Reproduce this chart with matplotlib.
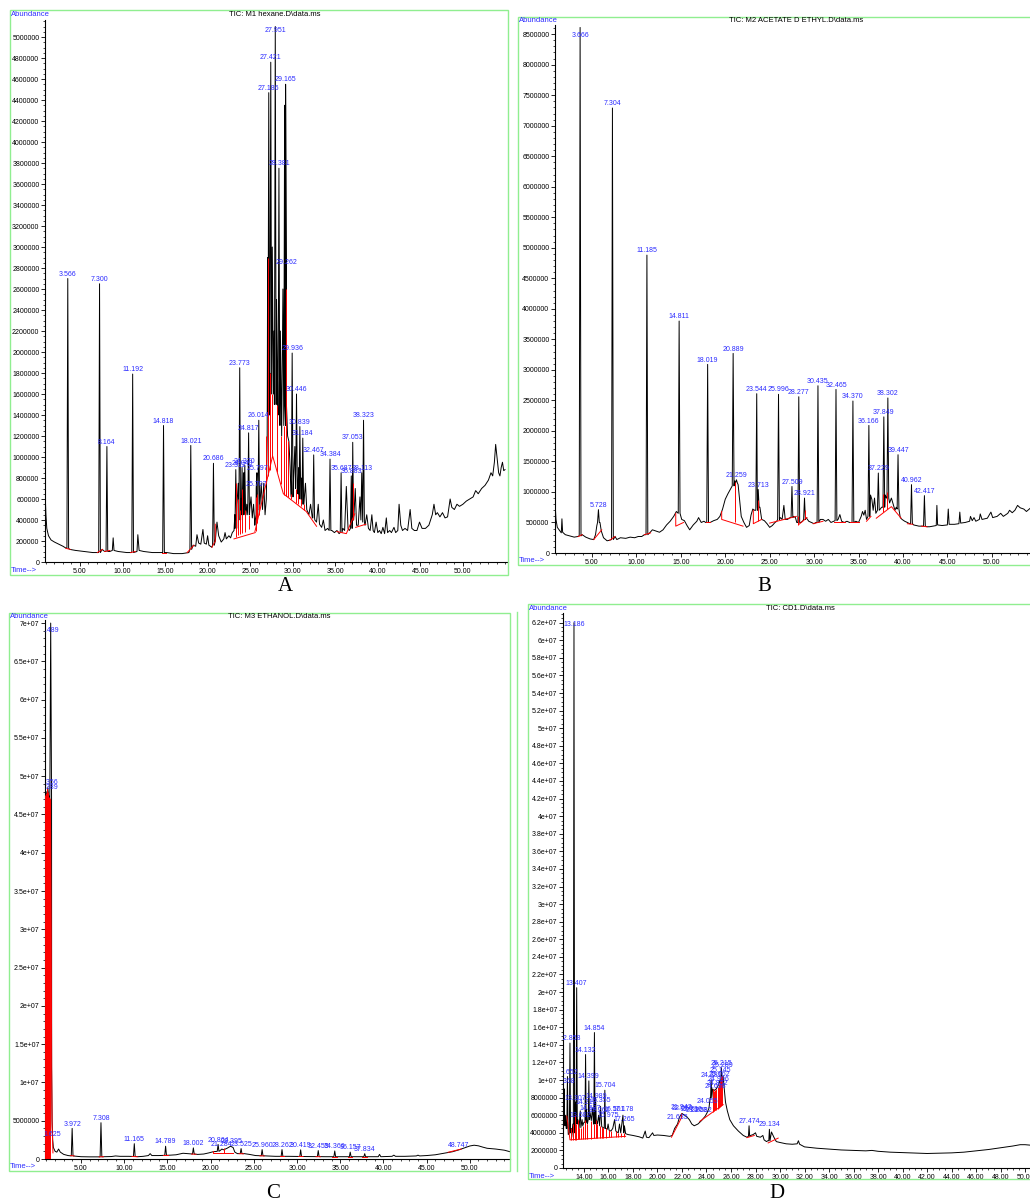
import numpy as np
import matplotlib
matplotlib.use('Agg')
import matplotlib.pyplot as plt
from matplotlib.ticker import FixedLocator, MultipleLocator, FuncFormatter
from matplotlib.patches import Rectangle

plt.rcParams['font.family'] = ['Liberation Sans', 'DejaVu Sans']

M = 1e6          # abundances below are in millions
BLUE = '#2b2bff'
GREEN = '#90ee90'

# ---------------- A : M1 hexane ----------------
A_bg_t = [0.89, 0.93, 1.0, 1.1, 1.3, 1.6, 2.0, 2.5, 3.0, 3.4, 3.8, 4.5, 5.5, 6.5, 7.1, 7.6, 7.9, 8.5,
          8.8, 8.9, 9.0, 9.5, 10.5, 11.0, 11.7, 11.8, 11.95, 12.5, 13.5, 14.5, 15.2, 16.0, 17.0, 17.8,
          18.3, 18.6, 18.75, 18.95, 19.2, 19.45, 19.6, 19.85, 20.0, 20.15, 20.5, 20.9, 21.1, 21.3, 21.6,
          21.9, 22.05, 22.2, 22.5, 22.7, 22.9, 23.1, 23.2, 23.45, 23.6, 23.9, 24.17, 24.25, 24.5, 24.6,
          24.95, 25.1, 25.25, 25.4, 25.55, 25.9, 26.15, 26.3, 26.45, 26.6, 26.75, 26.9, 27.0, 27.05,
          27.08, 27.3, 27.6, 27.72, 27.8, 28.1, 28.25, 28.5, 28.55, 28.7, 28.85, 28.95, 29.05, 29.4,
          29.55, 29.7, 29.8, 30.1, 30.25, 30.33, 30.6, 30.7, 30.95, 31.05, 31.3, 31.5, 31.65, 31.9,
          32.1, 32.3, 32.6, 32.8, 33.0, 33.15, 33.4, 33.6, 33.8, 34.1, 34.6, 34.9, 35.2, 35.45, 35.9,
          36.1, 36.3, 36.5, 36.65, 37.2, 37.35, 37.5, 37.7, 37.9, 38.0, 38.5, 38.7, 38.9, 39.1, 39.3,
          39.45, 39.6, 39.8, 40.0, 40.2, 40.4, 40.6, 40.8, 41.0, 41.15, 41.4, 41.6, 41.9, 42.1, 42.35,
          42.5, 42.7, 42.9, 43.2, 43.5, 43.8, 44.0, 44.3, 44.6, 44.9, 45.2, 45.6, 46.0, 46.4, 46.6,
          46.8, 47.0, 47.3, 47.6, 47.9, 48.2, 48.5, 48.7, 49.0, 49.3, 49.6, 50.0, 50.4, 50.8, 51.2,
          51.5, 51.8, 52.2, 52.6, 53.0, 53.3, 53.5, 53.7, 53.85, 54.0, 54.2, 54.35, 54.5, 54.65, 54.8,
          54.95]
A_bg_y = [1.15, 0.60, 0.45, 0.32, 0.25, 0.21, 0.19, 0.17, 0.15, 0.13, 0.12, 0.11, 0.10, 0.09, 0.09, 0.12, 0.10, 0.10,
          0.11, 0.23, 0.11, 0.10, 0.09, 0.09, 0.10, 0.26, 0.11, 0.10, 0.09, 0.09, 0.09, 0.08, 0.08, 0.09,
          0.16, 0.15, 0.26, 0.18, 0.17, 0.31, 0.18, 0.17, 0.25, 0.16, 0.14, 0.20, 0.38, 0.25, 0.19,
          0.22, 0.28, 0.22, 0.25, 0.23, 0.28, 0.30, 0.45, 0.55, 0.75, 0.60, 0.50, 0.85, 0.45, 0.55,
          0.50, 0.62, 0.42, 0.55, 0.35, 0.50, 0.55, 0.75, 0.50, 0.75, 0.45, 0.60, 1.20, 2.90,
          1.40, 1.80, 3.00, 1.60, 2.20, 2.50, 1.50, 1.30, 2.20, 1.20, 2.60, 1.30, 4.35, 1.20,
          1.15, 0.90, 0.65, 0.80, 1.10, 0.70, 0.65, 0.90, 0.60, 0.80, 0.55, 0.75, 0.50, 0.45,
          0.55, 0.42, 0.40, 0.38, 0.55, 0.36, 0.33, 0.40, 0.30, 0.32, 0.30, 0.28, 0.30, 0.27, 0.32,
          0.30, 0.72, 0.32, 0.30, 0.45, 0.70, 0.35, 0.35, 0.62, 0.40, 0.35, 0.45, 0.32, 0.30, 0.45,
          0.30, 0.28, 0.38, 0.28, 0.30, 0.27, 0.33, 0.27, 0.42, 0.28, 0.30, 0.28, 0.33, 0.28, 0.30,
          0.55, 0.35, 0.30, 0.32, 0.30, 0.50, 0.32, 0.30, 0.30, 0.38, 0.32, 0.32, 0.35, 0.45, 0.55,
          0.45, 0.47, 0.43, 0.47, 0.42, 0.43, 0.60, 0.52, 0.50, 0.55, 0.53, 0.55, 0.58, 0.60, 0.62,
          0.68, 0.65, 0.70, 0.73, 0.78, 0.85, 0.82, 0.95, 1.12, 1.00, 0.85, 0.82, 0.90, 0.95, 0.87,
          0.88]
A_pk_t = [3.566, 7.300, 8.164, 11.192, 14.818, 18.021, 20.686, 23.312, 23.773, 24.049, 24.370, 24.817,
          25.707, 25.797, 26.014, 27.186, 27.421, 27.951, 28.381, 29.165, 29.262, 29.936, 30.446, 30.839,
          31.184, 32.467, 34.384, 35.687, 36.883, 37.053, 38.113, 38.323]
A_pk_h = [2.70, 2.65, 1.10, 1.79, 1.30, 1.11, 0.94, 0.88, 1.85, 0.90, 0.92, 1.23,
          0.70, 0.85, 1.35, 4.47, 4.76, 5.10, 3.75, 4.55, 2.81, 1.99, 1.60, 1.29,
          1.18, 1.02, 0.98, 0.85, 0.82, 1.14, 0.85, 1.35]
A_pk_b = [0.13, 0.09, 0.10, 0.09, 0.09, 0.12, 0.16, 0.32, 0.40, 0.45, 0.45, 0.45,
          0.40, 0.45, 0.50, 1.40, 1.60, 1.50, 1.40, 1.50, 1.30, 0.62, 0.70, 0.60,
          0.55, 0.42, 0.30, 0.28, 0.32, 0.40, 0.40, 0.38]
A_tag_t, A_tag_y = [], []
A_red_t = [[3.35, 3.85], [7.05, 7.65], [7.9, 8.5], [10.95, 11.5], [14.6, 15.1], [17.6, 18.4],
           [20.5, 20.9, 20.9], [23.1, 25.6], [25.56, 27.64, 28.9, 31.6, 32.8], [35.2, 36.3, 37.3],
           [37.4, 38.6]]
A_red_y = [[0.13, 0.12], [0.09, 0.12], [0.10, 0.11], [0.09, 0.10], [0.09, 0.09], [0.09, 0.16],
           [0.14, 0.20, 0.36], [0.22, 0.28], [0.29, 1.01, 0.65, 0.48, 0.34], [0.29, 0.27, 0.46],
           [0.33, 0.36]]
A_drop_t = [23.312, 23.6, 23.773, 24.049, 24.37, 24.817, 25.707, 25.797, 26.014, 26.9, 27.05, 27.3,
            27.6, 28.2, 28.6, 29.0, 29.25, 29.5, 29.85, 30.35, 30.65, 30.95, 31.3, 37.1]
A_drop_lo = [0.24, 0.26, 0.27, 0.28, 0.29, 0.31, 0.30, 0.37, 0.45, 0.75, 0.82, 0.88,
             1.00, 0.86, 0.74, 0.64, 0.63, 0.62, 0.60, 0.56, 0.55, 0.53, 0.50, 0.40]
A_drop_hi = [0.75, 0.60, 0.50, 0.70, 0.50, 0.45, 0.62, 0.65, 0.55, 1.20, 2.90, 1.80,
             1.60, 1.50, 1.20, 1.30, 2.60, 1.15, 0.65, 0.70, 0.65, 0.60, 0.55, 0.75]

# ---------------- B : M2 acetate d'ethyl ----------------
B_bg_t = [0.84, 0.87, 0.95, 1.1, 1.4, 1.55, 1.62, 1.7, 2.0, 2.5, 3.0, 3.4, 3.9, 4.3, 4.8, 5.2, 5.4, 5.55,
          5.9, 6.05, 6.3, 6.7, 7.0, 7.6, 7.8, 8.2, 8.8, 9.3, 9.8, 10.2, 10.6, 10.9, 11.5, 11.8, 12.2,
          12.6, 13.0, 13.4, 13.8, 14.2, 14.5, 15.1, 15.4, 15.7, 16.0, 16.4, 16.8, 17.0, 17.3, 17.6,
          17.8, 18.3, 18.7, 19.1, 19.4, 19.7, 20.0, 20.3, 20.6, 21.05, 21.45, 21.6, 21.8, 22.1, 22.4,
          22.7, 22.9, 23.1, 23.3, 23.9, 24.1, 24.4, 24.7, 25.0, 25.3, 25.6, 25.8, 26.2, 26.4, 26.6,
          26.75, 27.0, 27.3, 27.7, 27.9, 28.05, 28.5, 28.7, 29.1, 29.4, 29.7, 30.0, 30.2, 30.7, 31.0,
          31.3, 31.6, 31.9, 32.2, 32.7, 32.9, 33.1, 33.4, 33.7, 34.0, 34.7, 35.0, 35.3, 35.45, 35.6,
          35.75, 35.9, 36.35, 36.5, 36.65, 36.8, 36.95, 37.45, 37.6, 38.0, 38.15, 38.5, 38.7, 38.9,
          39.1, 39.25, 39.7, 39.9, 40.2, 40.5, 40.75, 41.2, 41.5, 41.8, 42.1, 42.7, 43.0, 43.4, 43.75,
          43.82, 43.9, 44.4, 45.0, 45.1, 45.2, 45.8, 46.3, 46.4, 46.5, 47.0, 47.5, 47.6, 47.8, 48.0,
          48.2, 48.6, 48.7, 48.9, 49.5, 49.9, 50.1, 50.6, 51.0, 51.3, 51.8, 52.0, 52.3, 52.6, 52.9,
          53.2, 53.6, 53.9, 54.3]
B_bg_y = [2.10, 0.77, 0.55, 0.42, 0.36, 0.33, 0.56, 0.34, 0.30, 0.28, 0.26, 0.27, 0.30, 0.26, 0.23, 0.22, 0.30, 0.45,
          0.50, 0.36, 0.25, 0.20, 0.21, 0.27, 0.22, 0.25, 0.24, 0.26, 0.25, 0.27, 0.27, 0.30, 0.33, 0.38, 0.36,
          0.34, 0.38, 0.46, 0.52, 0.60, 0.68, 0.55, 0.53, 0.45, 0.38, 0.46, 0.52, 0.58, 0.50, 0.52,
          0.50, 0.50, 0.53, 0.55, 0.60, 0.72, 0.88, 0.97, 1.05, 1.18, 1.12, 0.90, 0.60, 0.50, 0.42,
          0.45, 0.62, 0.72, 0.70, 0.75, 0.55, 0.53, 0.48, 0.42, 0.45, 0.50, 0.52, 0.58, 0.55, 0.78,
          0.55, 0.55, 0.58, 0.60, 0.58, 0.50, 0.50, 0.52, 0.58, 0.52, 0.50, 0.48, 0.50, 0.55, 0.55,
          0.52, 0.55, 0.50, 0.52, 0.55, 0.63, 0.52, 0.50, 0.52, 0.50, 0.52, 0.50, 0.60, 0.68, 0.62,
          0.70, 0.55, 0.95, 0.88, 0.70, 0.90, 0.65, 0.72, 0.75, 0.95, 0.90, 0.82, 0.90, 0.80,
          0.70, 0.75, 0.58, 0.55, 0.52, 0.50, 0.48, 0.46, 0.45, 0.44, 0.44, 0.43, 0.43, 0.44, 0.45,
          0.78, 0.46, 0.45, 0.46, 0.72, 0.47, 0.47, 0.48, 0.67, 0.49, 0.50, 0.52, 0.60, 0.53, 0.58,
          0.52, 0.55, 0.64, 0.55, 0.57, 0.67, 0.58, 0.60, 0.65, 0.60, 0.65, 0.70, 0.66, 0.70, 0.78,
          0.74, 0.72, 0.68, 0.73]
B_pk_t = [3.666, 5.728, 7.304, 11.185, 14.811, 18.019, 20.889, 21.259, 23.544, 23.713, 25.996, 27.509,
          28.277, 28.921, 30.435, 32.465, 34.370, 36.166, 37.229, 37.849, 38.302, 39.447, 40.962, 42.417]
B_pk_h = [8.61, 0.71, 7.29, 4.88, 3.80, 3.09, 3.27, 1.20, 2.61, 1.04, 2.60, 1.09,
          2.56, 0.90, 2.74, 2.68, 2.49, 2.09, 1.31, 2.23, 2.54, 1.61, 1.12, 0.94]
B_pk_b = [0.28, 0.50, 0.22, 0.30, 0.65, 0.50, 1.10, 1.15, 0.70, 0.75, 0.55, 0.58,
          0.50, 0.55, 0.50, 0.53, 0.50, 0.60, 0.70, 0.75, 0.90, 0.72, 0.48, 0.44]
B_tag_t, B_tag_y = [], []
B_red_t = [[3.45, 3.9], [5.2, 6.1], [7.0, 7.6], [10.9, 11.6], [14.43, 14.43, 15.3], [17.85, 18.3],
           [19.6, 19.6, 22.0], [23.16, 23.16, 24.1], [25.0, 28.0], [28.3, 29.2], [29.9, 31.0],
           [32.2, 33.5], [34.0, 35.0], [35.9, 36.4], [37.0, 38.7, 39.8], [40.5, 41.1], [42.1, 42.7]]
B_red_y = [[0.27, 0.30], [0.22, 0.38], [0.21, 0.27], [0.30, 0.33], [0.65, 0.44, 0.50], [0.50, 0.50],
           [0.68, 0.55, 0.44], [0.70, 0.48, 0.55], [0.49, 0.60], [0.47, 0.58], [0.48, 0.52],
           [0.50, 0.50], [0.50, 0.50], [0.52, 0.60], [0.57, 0.76, 0.57], [0.48, 0.47], [0.44, 0.43]]
B_drop_t = [21.14, 23.72, 28.2, 29.0, 37.8, 38.2]
B_drop_lo = [0.50, 0.52, 0.46, 0.57, 0.67, 0.72]
B_drop_hi = [1.17, 0.87, 0.60, 0.70, 0.97, 1.00]

# ---------------- C : M3 ethanol ----------------
C_bg_t = [0.83, 0.95, 1.05, 1.15, 1.25, 1.33, 1.6, 1.65, 1.72, 1.8, 2.0, 2.2, 2.4, 2.6, 3.0, 3.5, 4.5, 5.0,
          6.0, 7.0, 7.7, 8.5, 9.0, 9.5, 10.5, 11.6, 12.2, 12.8, 13.0, 13.2, 14.0, 15.3, 16.0, 16.8,
          17.3, 18.5, 19.2, 19.8, 20.3, 21.1, 21.3, 21.5, 21.9, 22.3, 22.6, 22.8, 23.1, 23.9, 24.5,
          25.2, 26.5, 27.5, 29.0, 29.8, 31.0, 31.8, 33.2, 35.2, 36.8, 38.5, 39.4, 39.55, 39.7, 41.0,
          41.2, 41.4, 42.5, 43.8, 44.0, 44.2, 45.0, 46.0, 47.0, 48.0, 48.75, 49.5, 50.0, 50.5, 51.0,
          51.5, 52.0, 53.0, 54.0, 54.65]
C_bg_y = [47.5, 48.0, 47.0, 48.5, 47.5, 47.2, 12.0, 5.0, 2.5, 1.5, 1.0, 0.9, 1.3, 0.9, 0.6, 0.45, 0.35, 0.30,
          0.28, 0.28, 0.30, 0.32, 0.40, 0.35, 0.35, 0.30, 0.35, 0.45, 0.70, 0.45, 0.45, 0.50, 0.55, 0.75,
          0.70, 0.60, 0.65, 0.80, 0.95, 1.10, 1.30, 1.20, 1.40, 1.67, 1.50, 0.90, 0.70, 0.70, 0.60,
          0.45, 0.40, 0.35, 0.35, 0.33, 0.32, 0.32, 0.30, 0.30, 0.30, 0.30, 0.30, 0.60, 0.30, 0.35,
          0.50, 0.35, 0.35, 0.40, 0.50, 0.40, 0.45, 0.55, 0.75, 0.95, 1.20, 1.50, 1.70, 1.80, 1.72,
          1.55, 1.40, 1.30, 1.15, 0.95]
C_pk_t = [1.489, 3.972, 7.308, 11.165, 14.789, 18.002, 20.864, 23.525, 25.960, 28.262, 30.419, 32.455,
          34.366, 36.157, 37.834]
C_pk_h = [70.0, 4.0, 4.74, 2.0, 1.67, 1.45, 1.9, 1.36, 1.23, 1.23, 1.2, 1.1, 1.05, 0.9, 0.7]
C_pk_b = [47.0, 0.4, 0.28, 0.33, 0.48, 0.65, 1.0, 0.7, 0.42, 0.35, 0.33, 0.31, 0.3, 0.3, 0.3]
C_tag_t = [1.356, 1.389, 1.625, 21.284, 22.395, 48.747]
C_tag_y = [48.6, 48.0, 2.6, 1.35, 1.67, 1.2]
C_red_t = [[1.45, 1.55, 1.6, 1.65, 1.75], [3.8, 4.2], [7.1, 7.6], [10.9, 11.5], [14.5, 15.1], [17.8, 18.3],
           [20.33, 20.33, 22.64], [23.3, 23.8], [25.7, 26.2], [28.0, 28.5], [30.2, 30.7], [32.2, 32.7],
           [34.1, 34.6], [35.9, 36.4], [37.5, 38.1], [47.5, 49.0]]
C_red_y = [[47.0, 30.0, 12.0, 4.5, 0.8], [0.45, 0.4], [0.28, 0.3], [0.33, 0.3], [0.5, 0.5], [0.65, 0.62],
           [1.0, 0.83, 0.83], [0.7, 0.68], [0.42, 0.4], [0.35, 0.35], [0.33, 0.32], [0.31, 0.3],
           [0.3, 0.3], [0.3, 0.3], [0.3, 0.3], [0.88, 1.3]]
C_drop_t = [0.86, 0.92, 0.98, 1.04, 1.1, 1.16, 1.22, 1.28, 1.34, 1.4, 21.49]
C_drop_lo = [0, 0, 0, 0, 0, 0, 0, 0, 0, 0, 0.83]
C_drop_hi = [47.6, 47.8, 47.2, 47.8, 48.4, 48.0, 47.6, 47.3, 47.2, 47.0, 1.4]

# ---------------- D : CD1 ----------------
D_bg_t = [12.29, 12.32, 12.36, 12.38, 12.41, 12.45, 12.5, 12.55, 12.72, 12.95, 13.0, 13.1, 13.28, 13.31,
          13.34, 13.5, 13.6, 13.7, 13.75, 13.85, 13.9, 14.0, 14.2, 14.28, 14.5, 14.6, 14.7, 14.78, 14.95,
          15.0, 15.1, 15.2, 15.28, 15.355, 15.45, 15.55, 15.8, 15.9, 15.97, 16.05, 16.2, 16.35, 16.5,
          16.6, 16.8, 16.9, 17.0, 17.18, 17.25, 17.3, 17.4, 17.6, 18.0, 18.5, 18.8, 19.0, 19.1, 19.3,
          19.6, 19.7, 20.0, 20.5, 21.0, 21.2, 21.4, 21.635, 21.8, 22.0, 22.2, 22.4, 22.6, 22.8, 23.0,
          23.3, 23.6, 23.9, 24.055, 24.2, 24.3, 24.5, 24.6, 24.8, 25.0, 25.1, 25.35, 25.45, 25.55,
          25.7, 25.9, 26.2, 26.6, 27.0, 27.3, 27.6, 27.8, 28.0, 28.1, 28.4, 28.6, 28.7, 28.9, 29.0,
          29.3, 29.5, 29.7, 30.0, 30.5, 31.0, 31.4, 31.5, 31.6, 32.0, 33.0, 34.0, 35.0, 36.0, 37.0,
          37.5, 38.0, 39.0, 40.0, 41.0, 42.0, 43.0, 44.0, 45.0, 46.0, 47.0, 48.0, 49.0, 49.6, 50.0,
          50.4]
D_bg_y = [9.1, 6.0, 5.5, 9.0, 5.5, 4.8, 6.0, 4.5, 3.8, 4.5, 3.5, 5.0, 6.0, 7.5,
          5.0, 5.5, 4.5, 6.5, 4.6, 5.5, 4.8, 5.2, 6.6, 5.0, 6.3, 5.4, 6.8, 5.0, 8.0,
          5.5, 5.0, 6.0, 4.8, 7.0, 4.7, 4.6, 4.5, 4.4, 5.0, 4.3, 4.2, 4.5, 5.5,
          4.2, 4.0, 5.0, 4.0, 6.0, 4.0, 4.8, 3.9, 3.8, 3.7, 3.55, 3.4, 4.2, 3.5, 3.45,
          4.0, 3.7, 3.75, 3.7, 3.6, 3.7, 4.5, 5.0, 5.8, 6.2, 6.0, 5.8, 5.5, 5.0, 4.8,
          5.0, 5.4, 5.9, 6.3, 6.8, 8.0, 9.0, 8.8, 9.0, 9.5, 10.0, 10.5, 9.0, 7.5,
          6.5, 5.5, 4.8, 4.2, 3.7, 3.5, 3.7, 3.8, 4.0, 3.6, 3.5, 3.7, 3.2, 3.0, 3.1,
          4.1, 3.5, 3.0, 2.9, 2.75, 2.7, 2.75, 3.1, 2.7, 2.4, 2.25, 2.15, 2.05, 2.0, 1.95,
          2.0, 1.9, 1.8, 1.75, 1.7, 1.65, 1.68, 1.72, 1.8, 1.95, 2.1, 2.3, 2.5, 2.65, 2.65,
          2.6]
D_pk_t = [12.652, 12.858, 13.186, 13.407, 14.132, 14.399, 14.854, 15.704, 24.381, 25.215, 27.474, 29.134]
D_pk_h = [10.4, 14.2, 62.0, 20.5, 12.9, 9.9, 15.4, 8.84, 10.0, 11.4, 4.8, 4.4]
D_pk_b = [4.5, 4.0, 4.0, 5.0, 5.2, 5.5, 5.0, 4.5, 8.0, 9.5, 3.6, 3.1]
D_tag_t = [12.368, 13.307, 13.682, 14.212, 14.537, 14.989, 15.262, 15.355, 15.975, 16.501, 17.178,
           17.265, 21.635, 21.942, 22.060, 22.736, 23.203, 23.582, 24.055, 24.698, 24.852, 24.996,
           25.062, 25.145, 25.289]
D_tag_y = [9.3, 7.4, 5.5, 7.0, 6.3, 7.6, 6.1, 7.2, 5.5, 6.2, 6.2,
           5.0, 5.2, 6.4, 6.3, 6.2, 6.1, 6.0, 7.1, 8.8, 9.1, 9.6,
           10.1, 10.6, 11.2]
D_red_t = [[12.6, 12.86, 17.4], [21.14, 21.95], [23.45, 25.36], [27.3, 27.9], [29.03, 29.85]]
D_red_y = [[5.9, 3.2, 3.6], [3.5, 5.7], [5.3, 7.2], [3.45, 3.7], [2.85, 3.4]]
D_drop_t = [12.95, 13.1, 13.28, 13.34, 13.5, 13.6, 13.75, 13.9, 14.05, 14.28, 14.6, 14.78, 15.0, 15.1,
            15.28, 15.45, 15.55, 15.8, 16.05, 16.2, 16.6, 16.8, 17.0, 17.25, 21.95,
            24.5, 24.6, 24.7, 24.8, 24.9, 25.0, 25.1, 25.2, 25.3]
D_drop_lo = [3.21, 3.22, 3.24, 3.24, 3.26, 3.27, 3.28, 3.29, 3.30, 3.33, 3.35, 3.37, 3.39, 3.40,
             3.41, 3.43, 3.44, 3.46, 3.48, 3.49, 3.53, 3.55, 3.56, 3.58, 5.7,
             6.35, 6.45, 6.55, 6.65, 6.75, 6.85, 6.95, 7.05, 7.15]
D_drop_hi = [4.5, 5.0, 6.0, 5.0, 5.5, 4.5, 4.6, 4.8, 5.5, 5.0, 5.4, 5.0, 5.5, 5.0,
             4.8, 4.7, 4.6, 4.5, 4.3, 4.2, 4.2, 4.0, 4.0, 4.0, 6.2,
             9.0, 8.8, 8.9, 9.0, 9.2, 9.5, 10.0, 10.5, 10.5]

W, H = 1030, 1201
fig = plt.figure(figsize=(W / 100, H / 100), dpi=100)


def px_axes(l, t, r, b):
    return fig.add_axes([l / W, 1 - b / H, (r - l) / W, (b - t) / H])


def ftext(x, y, s, **kw):
    fig.text(x / W, 1 - y / H, s, **kw)


def frame(l, t, r, b):
    fig.add_artist(Rectangle((l / W, 1 - b / H), (r - l) / W, (b - t) / H,
                             transform=fig.transFigure, fill=False, ec=GREEN, lw=1.0))


def build_trace(bg_t, bg_y, pk_t, pk_h, pk_b, w):
    bg_t, bg_y = np.asarray(bg_t), np.asarray(bg_y) * M
    pk_t = np.asarray(pk_t)
    keep = np.min(np.abs(bg_t[:, None] - pk_t[None, :]), axis=1) > w
    t = np.concatenate([bg_t[keep], pk_t - w, pk_t, pk_t + w])
    y = np.concatenate([bg_y[keep], np.asarray(pk_b) * M, np.asarray(pk_h) * M, np.asarray(pk_b) * M])
    o = np.argsort(t, kind='stable')
    return t[o], y[o]


def ylab(v, p):
    return f"{int(round(v))}" if v < 1e7 else f"{v:g}"


def chromatogram(ax, xlim, ytop, xt, xminor, ymajor, yminor, w,
                 bg_t, bg_y, pk_t, pk_h, pk_b, tag_t, tag_y, red_t, red_y, dt, dlo, dhi):
    t, y = build_trace(bg_t, bg_y, pk_t, pk_h, pk_b, w)
    ax.plot(t, y, color='black', lw=0.7, zorder=2)
    for rt, ry in zip(red_t, red_y):
        ax.plot(rt, np.asarray(ry) * M, color='red', lw=0.7, zorder=3)
    ax.vlines(dt, np.asarray(dlo) * M, np.asarray(dhi) * M, color='red', lw=0.7, zorder=3)
    for lt, ly in zip(list(pk_t) + list(tag_t), list(pk_h) + list(tag_y)):
        ax.annotate(f"{lt:.3f}", (lt, min(ly * M, ytop * 0.972)), xytext=(0, 0.6),
                    textcoords='offset points', ha='center', va='bottom', fontsize=5,
                    color=BLUE, clip_on=True, annotation_clip=False, zorder=4)
    ax.set_xlim(*xlim)
    ax.set_ylim(0, ytop)
    for s in ('top', 'right'):
        ax.spines[s].set_visible(False)
    for s in ('left', 'bottom'):
        ax.spines[s].set_linewidth(0.8)
    ax.xaxis.set_major_locator(FixedLocator(xt))
    ax.xaxis.set_minor_locator(MultipleLocator(xminor))
    ax.xaxis.set_major_formatter(FuncFormatter(lambda v, p: f"{v:.2f}"))
    ax.yaxis.set_major_locator(MultipleLocator(ymajor))
    ax.yaxis.set_minor_locator(MultipleLocator(yminor))
    ax.yaxis.set_major_formatter(FuncFormatter(ylab))
    ax.tick_params(which='major', length=3, width=0.6, labelsize=5, pad=1)
    ax.tick_params(which='minor', length=1.5, width=0.5)
    ax.patch.set_alpha(0)


# frames
frame(10, 10, 508, 575)
frame(518, 17, 1040, 565)
frame(9, 613, 510, 1171)
frame(528, 604, 1040, 1179)
fig.add_artist(plt.Line2D([517 / W, 517 / W], [1 - 612 / H, 1 - 1171 / H],
                          transform=fig.transFigure, color=GREEN, lw=1.0))

axA = px_axes(45, 20, 508, 562)
chromatogram(axA, (0.89, 55.3), 5.162 * M, np.arange(5, 51, 5), 1, 200000, 50000, 0.1,
             A_bg_t, A_bg_y, A_pk_t, A_pk_h, A_pk_b, A_tag_t, A_tag_y, A_red_t, A_red_y,
             A_drop_t, A_drop_lo, A_drop_hi)
axB = px_axes(555, 25, 1030, 553)
chromatogram(axB, (0.84, 54.3), 8.65 * M, np.arange(5, 51, 5), 1, 500000, 100000, 0.1,
             B_bg_t, B_bg_y, B_pk_t, B_pk_h, B_pk_b, B_tag_t, B_tag_y, B_red_t, B_red_y,
             B_drop_t, B_drop_lo, B_drop_hi)
axC = px_axes(45, 620, 510, 1159)
chromatogram(axC, (0.83, 54.65), 70.4 * M, np.arange(5, 51, 5), 1, 5 * M, 1 * M, 0.1,
             C_bg_t, C_bg_y, C_pk_t, C_pk_h, C_pk_b, C_tag_t, C_tag_y, C_red_t, C_red_y,
             C_drop_t, C_drop_lo, C_drop_hi)
axD = px_axes(563, 613, 1030, 1168)
chromatogram(axD, (12.29, 50.4), 63.1 * M, np.arange(14, 51, 2), 0.5, 2 * M, 0.5 * M, 0.05,
             D_bg_t, D_bg_y, D_pk_t, D_pk_h, D_pk_b, D_tag_t, D_tag_y, D_red_t, D_red_y,
             D_drop_t, D_drop_lo, D_drop_hi)

small = dict(fontsize=5.5, va='center')
ftext(11, 14, 'Abundance', color=BLUE, ha='left', **small)
ftext(519, 21, 'Abundance', color=BLUE, ha='left', **small)
ftext(10, 616, 'Abundance', color=BLUE, ha='left', **small)
ftext(529, 608, 'Abundance', color=BLUE, ha='left', **small)
ftext(11, 570, 'Time-->', color=BLUE, ha='left', **small)
ftext(519, 561, 'Time-->', color=BLUE, ha='left', **small)
ftext(10, 1167, 'Time-->', color=BLUE, ha='left', **small)
ftext(529, 1177, 'Time-->', color=BLUE, ha='left', **small)
ftext(275, 14, 'TIC: M1 hexane.D\\data.ms', color='black', ha='center', **small)
ftext(796, 21, 'TIC: M2 ACETATE D ETHYL.D\\data.ms', color='black', ha='center', **small)
ftext(279, 616, 'TIC: M3 ETHANOL.D\\data.ms', color='black', ha='center', **small)
ftext(800, 608, 'TIC: CD1.D\\data.ms', color='black', ha='center', **small)

big = dict(fontsize=15, family='Liberation Serif', ha='center', va='center')
ftext(285, 587, 'A', **big)
ftext(764, 587, 'B', **big)
ftext(273, 1193, 'C', **big)
ftext(777, 1193, 'D', **big)

fig.savefig('out.png', dpi=100)
